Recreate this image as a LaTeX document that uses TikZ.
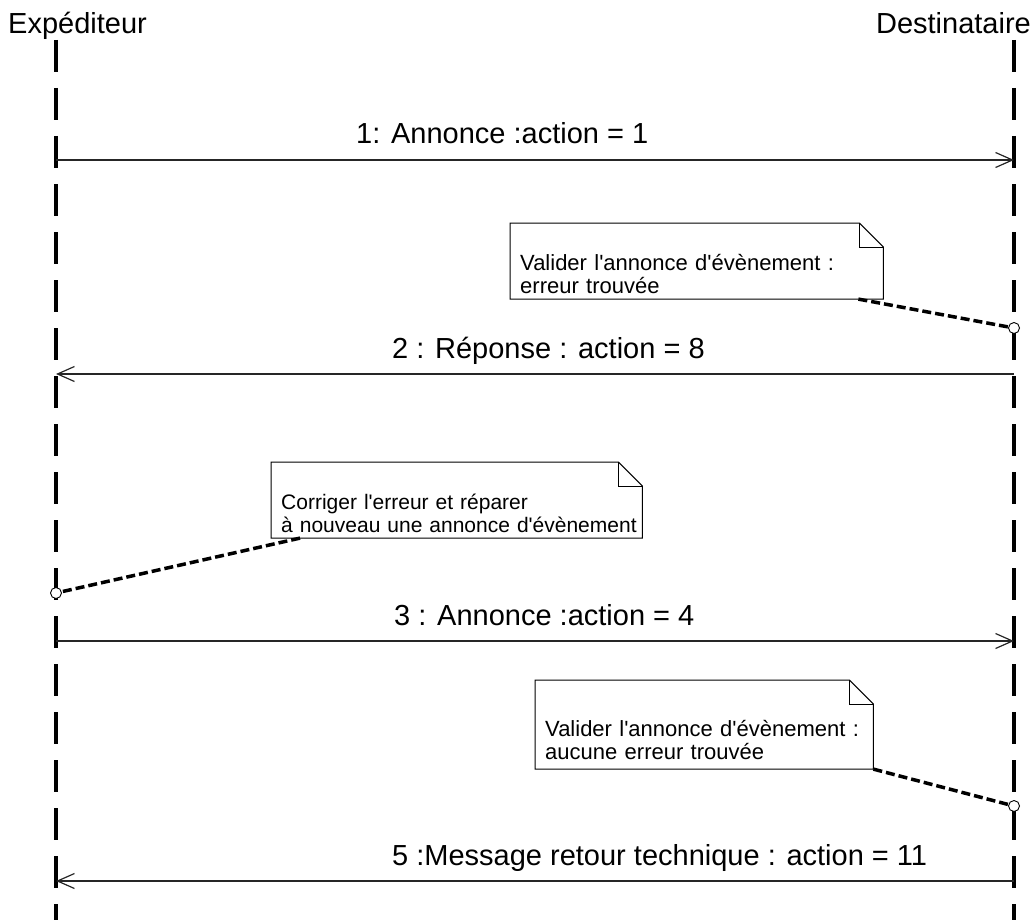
\documentclass[tikz,border=0pt]{standalone}
\usepackage{fontspec}
\setmainfont{Liberation Sans}
\usepackage{tikz}
\usetikzlibrary{arrows.meta}

\begin{document}
\begin{tikzpicture}[x=1pt, y=-1pt,
  lifeline/.style={line width=3.5pt, dash pattern=on 32pt off 16pt},
  msg/.style={line width=1.2pt, black!85, -{Straight Barb[length=17pt, width=15pt]}},
  msglabel/.style={anchor=base west, inner sep=0pt, font={\fontsize{29}{32}\selectfont}},
  actor/.style={inner sep=0pt, font={\fontsize{29}{32}\selectfont}},
  notebox/.style={anchor=north west, inner xsep=10pt, inner ysep=5pt, align=left, font={\fontsize{22}{23.5}\selectfont}, execute at begin node={\rule{0pt}{#1}}},
  noteline/.style={line width=1pt},
  notelink/.style={line width=3.5pt, dash pattern=on 9pt off 4pt},
  anchorpt/.style={circle, draw, fill=white, line width=0.9pt, minimum size=11pt, inner sep=0pt}]

\useasboundingbox (0,0) rectangle (1032,920);

\node[actor, anchor=base west] (exped) at (8,34) {Expéditeur};
\node[actor, anchor=base east] (dest) at (1031,34) {Destinataire};
\coordinate (ltop) at (56,40);
\coordinate (rtop) at (1014,40);
\coordinate (lbot) at (56,920);
\coordinate (rbot) at (1014,920);
\draw[lifeline] (ltop) -- (lbot);
\draw[lifeline] (rtop) -- (rbot);

\coordinate (m1a) at (56,160);
\coordinate (m1b) at (1014,160);
\coordinate (m2a) at (56,374);
\coordinate (m2b) at (1014,374);
\coordinate (m3a) at (56,641);
\coordinate (m3b) at (1014,641);
\coordinate (m5a) at (56,881);
\coordinate (m5b) at (1014,881);

\draw[msg] (m1a) -- (m1b);
\draw[msg] (m2b) -- (m2a);
\draw[msg] (m3a) -- (m3b);
\draw[msg] (m5b) -- (m5a);

\node[msglabel] (lab1) at ([xshift=300pt, yshift=16pt] m1a) {1: Annonce :action = 1};
\node[msglabel] (lab2) at ([xshift=336pt, yshift=16pt] m2a) {2 : Réponse : action = 8};
\node[msglabel] (lab3) at ([xshift=338pt, yshift=16pt] m3a) {3 : Annonce :action = 4};
\node[msglabel] (lab5) at ([xshift=336pt, yshift=16pt] m5a) {5 :Message retour technique : action = 11};

\node[notebox=42pt, text width=353pt] (note1) at (510,223) {Valider l\textquotesingle annonce d\textquotesingle évènement :\\erreur trouvée};
\node[notebox=42pt, text width=351pt, font={\fontsize{21}{23.5}\selectfont}] (note2) at (271,462) {Corriger l\textquotesingle erreur et réparer\\\mbox{à nouveau une annonce d\textquotesingle évènement}};
\node[notebox=47pt, inner ysep=9pt, text width=318pt] (note3) at (535,680) {Valider l\textquotesingle annonce d\textquotesingle évènement :\\aucune erreur trouvée};

\foreach \n in {note1,note2,note3}{
  \draw[noteline] (\n.south west) |- ([xshift=-24pt]\n.north east) -- ([yshift=-24pt]\n.north east) -- (\n.south east) -- cycle;
  \draw[noteline] ([xshift=-24pt]\n.north east) |- ([yshift=-24pt]\n.north east);
}

\node[anchorpt] (c1) at (1014,328) {};
\node[anchorpt] (c2) at (56,593) {};
\node[anchorpt] (c3) at (1014,806) {};

\draw[notelink] ([xshift=-25pt]note1.south east) -- (c1);
\draw[notelink] ([xshift=29pt]note2.south west) -- (c2);
\draw[notelink] (note3.south east) -- (c3);
\end{tikzpicture}
\end{document}
